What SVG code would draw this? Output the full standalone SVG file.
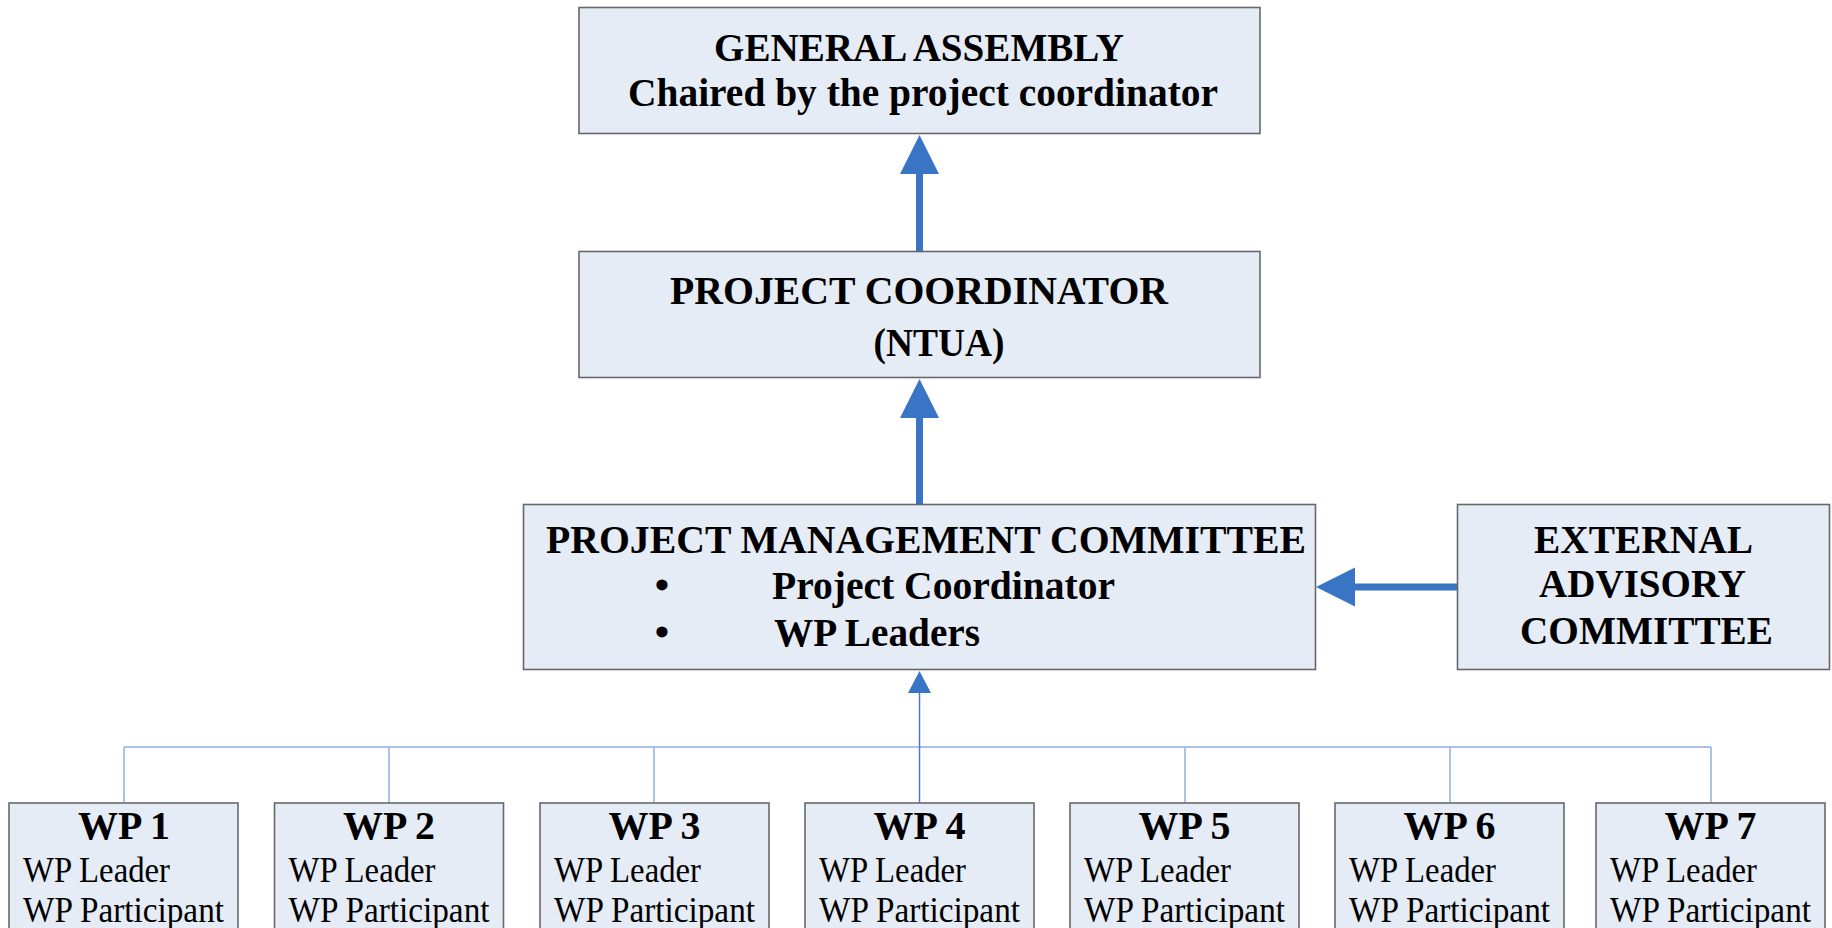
<svg xmlns="http://www.w3.org/2000/svg" width="1832" height="928" viewBox="0 0 1832 928">
<style>
.box{fill:#e5ecf6;stroke:#66686c;stroke-width:1.6}
.t{font-family:"Liberation Serif","Times New Roman",serif;fill:#000}
.b{font-weight:bold;font-size:41px}
.wt{font-weight:bold;font-size:39px}
.wr{font-size:35px}
.thick{stroke:#3a74c4;stroke-width:7;stroke-linecap:round;fill:none}
.thin{stroke:#8db0de;stroke-width:1.5;fill:none}
.stem{stroke:#4a7cc4;stroke-width:1.5;fill:none}
.head{fill:#3a74c4}
</style>
<rect width="1832" height="928" fill="#ffffff"/>
<g id="connectors">
<line class="thick" x1="919.5" y1="252" x2="919.5" y2="172"/>
<polygon class="head" points="919.5,135 939,174 900,174"/>
<line class="thick" x1="919.5" y1="504" x2="919.5" y2="415"/>
<polygon class="head" points="919.5,379 939,418 900,418"/>
<line class="thick" x1="1459" y1="587" x2="1352" y2="587"/>
<polygon class="head" points="1316,587 1355,567.5 1355,606.5"/>
<line class="thin" x1="124" y1="747" x2="1711" y2="747"/>
<line class="thin" x1="124" y1="747" x2="124" y2="803"/>
<line class="thin" x1="389" y1="747" x2="389" y2="803"/>
<line class="thin" x1="654" y1="747" x2="654" y2="803"/>
<line class="thin" x1="1185" y1="747" x2="1185" y2="803"/>
<line class="thin" x1="1450" y1="747" x2="1450" y2="803"/>
<line class="thin" x1="1711" y1="747" x2="1711" y2="803"/>
<line class="stem" x1="919.5" y1="692" x2="919.5" y2="803"/>
<polygon class="head" points="919.5,671 931,693 908,693"/>
</g>
<g id="general-assembly">
<rect class="box" x="579" y="7.5" width="681" height="126"/>
<text class="t b" x="919" y="61" text-anchor="middle" textLength="410" lengthAdjust="spacingAndGlyphs">GENERAL ASSEMBLY</text>
<text class="t b" x="923" y="106" text-anchor="middle" textLength="590" lengthAdjust="spacingAndGlyphs">Chaired by the project coordinator</text>
</g>
<g id="project-coordinator">
<rect class="box" x="579" y="251.5" width="681" height="126"/>
<text class="t b" x="919" y="304" text-anchor="middle" textLength="498" lengthAdjust="spacingAndGlyphs">PROJECT COORDINATOR</text>
<text class="t b" x="939" y="356" text-anchor="middle" textLength="131" lengthAdjust="spacingAndGlyphs">(NTUA)</text>
</g>
<g id="pmc">
<rect class="box" x="523.5" y="504.5" width="792" height="165"/>
<text class="t b" x="546" y="553" textLength="760" lengthAdjust="spacingAndGlyphs">PROJECT MANAGEMENT COMMITTEE</text>
<text class="t b" x="662" y="599" text-anchor="middle">•</text>
<text class="t b" x="772" y="599" textLength="343" lengthAdjust="spacingAndGlyphs">Project Coordinator</text>
<text class="t b" x="662" y="646" text-anchor="middle">•</text>
<text class="t b" x="774" y="646" textLength="206" lengthAdjust="spacingAndGlyphs">WP Leaders</text>
</g>
<g id="eac">
<rect class="box" x="1457.5" y="504.5" width="372" height="165"/>
<text class="t b" x="1643.5" y="553" text-anchor="middle" font-size="39" textLength="219" lengthAdjust="spacingAndGlyphs">EXTERNAL</text>
<text class="t b" x="1642.5" y="597" text-anchor="middle" font-size="39" textLength="207" lengthAdjust="spacingAndGlyphs">ADVISORY</text>
<text class="t b" x="1646.5" y="644" text-anchor="middle" font-size="39" textLength="253" lengthAdjust="spacingAndGlyphs">COMMITTEE</text>
</g>
<g id="wp1">
<rect class="box" x="9" y="803" width="229" height="140"/>
<text class="t wt" x="124" y="839" text-anchor="middle" textLength="92" lengthAdjust="spacingAndGlyphs">WP 1</text>
<text class="t wr" x="23" y="882" textLength="147" lengthAdjust="spacingAndGlyphs">WP Leader</text>
<text class="t wr" x="23" y="922" textLength="201" lengthAdjust="spacingAndGlyphs">WP Participant</text>
</g>
<g id="wp2">
<rect class="box" x="274.5" y="803" width="229" height="140"/>
<text class="t wt" x="389" y="839" text-anchor="middle" textLength="92" lengthAdjust="spacingAndGlyphs">WP 2</text>
<text class="t wr" x="288.5" y="882" textLength="147" lengthAdjust="spacingAndGlyphs">WP Leader</text>
<text class="t wr" x="288.5" y="922" textLength="201" lengthAdjust="spacingAndGlyphs">WP Participant</text>
</g>
<g id="wp3">
<rect class="box" x="540" y="803" width="229" height="140"/>
<text class="t wt" x="654.5" y="839" text-anchor="middle" textLength="92" lengthAdjust="spacingAndGlyphs">WP 3</text>
<text class="t wr" x="554" y="882" textLength="147" lengthAdjust="spacingAndGlyphs">WP Leader</text>
<text class="t wr" x="554" y="922" textLength="201" lengthAdjust="spacingAndGlyphs">WP Participant</text>
</g>
<g id="wp4">
<rect class="box" x="805" y="803" width="229" height="140"/>
<text class="t wt" x="919.5" y="839" text-anchor="middle" textLength="92" lengthAdjust="spacingAndGlyphs">WP 4</text>
<text class="t wr" x="819" y="882" textLength="147" lengthAdjust="spacingAndGlyphs">WP Leader</text>
<text class="t wr" x="819" y="922" textLength="201" lengthAdjust="spacingAndGlyphs">WP Participant</text>
</g>
<g id="wp5">
<rect class="box" x="1070" y="803" width="229" height="140"/>
<text class="t wt" x="1184.5" y="839" text-anchor="middle" textLength="92" lengthAdjust="spacingAndGlyphs">WP 5</text>
<text class="t wr" x="1084" y="882" textLength="147" lengthAdjust="spacingAndGlyphs">WP Leader</text>
<text class="t wr" x="1084" y="922" textLength="201" lengthAdjust="spacingAndGlyphs">WP Participant</text>
</g>
<g id="wp6">
<rect class="box" x="1335" y="803" width="229" height="140"/>
<text class="t wt" x="1449.5" y="839" text-anchor="middle" textLength="92" lengthAdjust="spacingAndGlyphs">WP 6</text>
<text class="t wr" x="1349" y="882" textLength="147" lengthAdjust="spacingAndGlyphs">WP Leader</text>
<text class="t wr" x="1349" y="922" textLength="201" lengthAdjust="spacingAndGlyphs">WP Participant</text>
</g>
<g id="wp7">
<rect class="box" x="1596" y="803" width="229" height="140"/>
<text class="t wt" x="1710.5" y="839" text-anchor="middle" textLength="92" lengthAdjust="spacingAndGlyphs">WP 7</text>
<text class="t wr" x="1610" y="882" textLength="147" lengthAdjust="spacingAndGlyphs">WP Leader</text>
<text class="t wr" x="1610" y="922" textLength="201" lengthAdjust="spacingAndGlyphs">WP Participant</text>
</g>
</svg>
